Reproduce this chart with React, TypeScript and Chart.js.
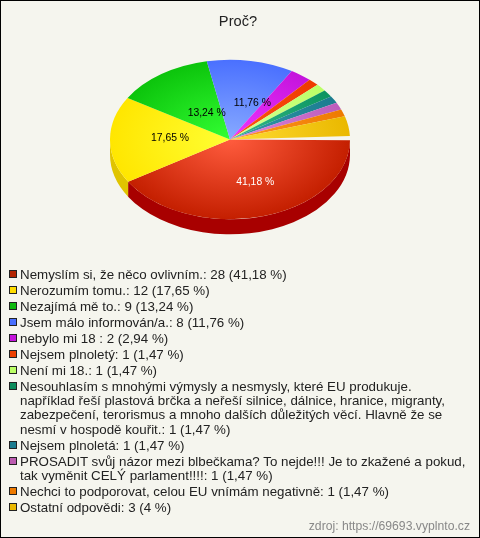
import React, { useEffect, useRef } from "react";
import { Chart, registerables } from "chart.js";

Chart.register(...registerables);

const categories = [
  "Nemyslím si, že něco ovlivním.",
  "Nerozumím tomu.",
  "Nezajímá mě to.",
  "Jsem málo informován/a.",
  "nebylo mi 18 ",
  "Nejsem plnoletý",
  "Není mi 18.",
  "Nesouhlasím s mnohými výmysly a nesmysly, které EU produkuje.\nnapříklad řeší plastová brčka a neřeší silnice, dálnice, hranice, migranty,\nzabezpečení, terorismus a mnoho dalších důležitých věcí. Hlavně že se\nnesmí v hospodě kouřit.",
  "Nejsem plnoletá",
  "PROSADIT svůj názor mezi blbečkama? To nejde!!! Je to zkažené a pokud,\ntak vyměnit CELÝ parlament!!!!",
  "Nechci to podporovat, celou EU vnímám negativně",
  "Ostatní odpovědi",
];
const counts = [28, 12, 9, 8, 2, 1, 1, 1, 1, 1, 1, 3];
const percents = [41.18, 17.65, 13.24, 11.76, 2.94, 1.47, 1.47, 1.47, 1.47, 1.47, 1.47, 4];
const sliceLabels = ["41,18 %", "17,65 %", "13,24 %", "11,76 %", "", "", "", "", "", "", "", ""];
const labelColors = ["#ffffff", "#000000", "#000000", "#000000"];
const labelNudgeX = [9, 0, 11, 12];
const labelNudgeY = [4, -1.5, 6.5, 2.5];
const innerColors = ["#ff5c3e", "#ffff33", "#33ff33", "#88aaff", "#f033ff", "#ff5511", "#d8ff99", "#33bb88", "#3399aa", "#dd88dd", "#ff9922", "#ffdd33"];
const outerColors = ["#c41f00", "#ffe600", "#0cc40c", "#4a70ff", "#c414dc", "#ee3a00", "#bbff66", "#0c9460", "#1c7c90", "#bc5cbc", "#ee7a00", "#eab800"];
const wallColors = ["#a80000", "#e0c400", "#0a9a0a", "#3050c0", "#9010a0", "#b82c00", "#90c050", "#087048", "#145c6c", "#8c448c", "#b45c00", "#b08a00"];
const swatchColors = ["#b32400", "#ffdd00", "#10bb10", "#4a70ff", "#c414dc", "#ee4000", "#bbff66", "#0c8c5c", "#1c7c90", "#bc5cb0", "#ee7a00", "#eab800"];

const SQUASH = 0.665;
const DEPTH = 15;
const BG = "#f5f5ee";

const piePlugin = {
  id: "pie3d",
  afterLayout(chart: any) {
    chart.boxes.forEach((box: any) => {
      if (box.options && box.options.text === "Proč?") {
        box.left = 0;
        box.right = 476;
      }
      if (box.options && box.options.position === "bottom" && box.options.text) {
        const h = box.bottom - box.top;
        box.left = 0;
        box.right = 470;
        box.top = 519.5;
        box.bottom = 519.5 + h;
      }
    });
  },
  beforeDraw(chart: any) {
    const { ctx, width, height } = chart;
    ctx.save();
    ctx.fillStyle = BG;
    ctx.fillRect(0, 0, width, height);
    ctx.strokeStyle = "#000000";
    ctx.lineWidth = 2;
    ctx.strokeRect(0, 0, width, height);
    ctx.restore();
  },
  beforeDatasetDraw(chart: any) {
    const { ctx } = chart;
    const arcs = chart.getDatasetMeta(0).data;
    const cy = arcs[0].y;
    arcs.forEach((arc: any, i: number) => {
      const a0 = Math.max(arc.startAngle, 0);
      const a1 = Math.min(arc.endAngle, Math.PI);
      if (a1 <= a0) return;
      const rx = arc.outerRadius;
      const ry = arc.outerRadius * SQUASH;
      ctx.save();
      ctx.fillStyle = wallColors[i];
      ctx.beginPath();
      ctx.ellipse(arc.x, cy, rx, ry, 0, a0, a1);
      ctx.ellipse(arc.x, cy + DEPTH, rx, ry, 0, a1, a0, true);
      ctx.closePath();
      ctx.fill();
      ctx.restore();
    });
    ctx.save();
    ctx.translate(0, cy);
    ctx.scale(1, SQUASH);
    ctx.translate(0, -cy);
  },
  afterDatasetDraw(chart: any) {
    const { ctx } = chart;
    ctx.restore();
    const arcs = chart.getDatasetMeta(0).data;
    const cy = arcs[0].y;
    ctx.save();
    ctx.font = "10.4px 'Liberation Sans', Arial, sans-serif";
    ctx.textAlign = "center";
    ctx.textBaseline = "middle";
    arcs.forEach((arc: any, i: number) => {
      if (!sliceLabels[i]) return;
      const mid = (arc.startAngle + arc.endAngle) / 2;
      const r = arc.outerRadius * 0.5;
      const x = arc.x + Math.cos(mid) * r + labelNudgeX[i];
      const y = cy + Math.sin(mid) * r * SQUASH + labelNudgeY[i];
      ctx.fillStyle = labelColors[i];
      ctx.fillText(sliceLabels[i], x, y);
    });
    ctx.restore();
  },
};

export default function App() {
  const ref = useRef<HTMLCanvasElement | null>(null);

  useEffect(() => {
    document.body.style.margin = "0";
    const chart = new Chart(ref.current as HTMLCanvasElement, {
      type: "pie",
      data: {
        labels: categories,
        datasets: [
          {
            data: percents,
            clip: false,
            borderWidth: 0,
            backgroundColor: (c: any) => {
              const area = c.chart.chartArea;
              if (!area) return outerColors[c.dataIndex];
              const x = (area.left + area.right) / 2;
              const y = (area.top + area.bottom) / 2;
              const g = c.chart.ctx.createRadialGradient(x, y, 0, x, y, 120);
              g.addColorStop(0, innerColors[c.dataIndex]);
              g.addColorStop(1, outerColors[c.dataIndex]);
              return g;
            },
          } as any,
        ],
      },
      options: {
        responsive: false,
        animation: false,
        rotation: 90.5,
        circumference: 357,
        radius: 120,
        layout: { padding: { left: 100, right: 120, top: 0, bottom: 280 } },
        plugins: {
          legend: { display: false },
          tooltip: { enabled: false },
          title: {
            display: true,
            text: "Proč?",
            color: "#222222",
            font: { size: 14.67, weight: "normal", family: "'Liberation Sans', Arial, sans-serif" },
            padding: { top: 13, bottom: 11 },
          },
          subtitle: {
            display: true,
            position: "bottom",
            align: "end",
            text: "zdroj: https://69693.vyplnto.cz",
            color: "#888888",
            font: { size: 12.2, weight: "normal", family: "'Liberation Sans', Arial, sans-serif" },
            padding: { top: 0, bottom: 6 },
          },
        },
      } as any,
      plugins: [piePlugin],
    });
    return () => chart.destroy();
  }, []);

  return (
    <div style={{ position: "relative", width: 480, height: 538 }}>
      <canvas ref={ref} width={480} height={538} style={{ display: "block" }} />
      <div
        style={{
          position: "absolute",
          left: 9,
          top: 268,
          width: 465,
          font: "13.33px/14.3px 'Liberation Sans', Arial, sans-serif",
          color: "#222222",
        }}
      >
        {categories.map((name, i) => (
          <div key={i} style={{ position: "relative", paddingLeft: 11, marginBottom: 1.7, whiteSpace: "pre-line" }}>
            <span
              style={{
                position: "absolute",
                left: 0,
                top: 2,
                width: 6,
                height: 6,
                background: swatchColors[i],
                border: "1px solid #222222",
              }}
            />
            {`${name}: ${counts[i]} (${String(percents[i]).replace(".", ",")} %)`}
          </div>
        ))}
      </div>
    </div>
  );
}
